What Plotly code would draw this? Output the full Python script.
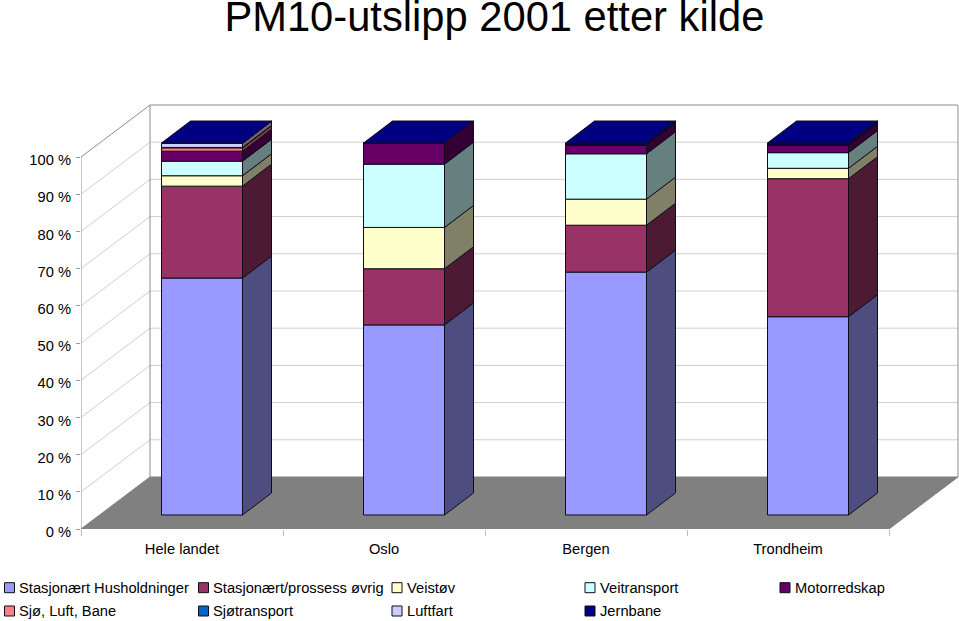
import plotly.graph_objects as go

# ---------- data ----------
categories = ["Hele landet", "Oslo", "Bergen", "Trondheim"]
series_names = ["Stasjonært Husholdninger", "Stasjonært/prossess øvrig", "Veistøv", "Veitransport",
                "Motorredskap", "Sjø, Luft, Bane", "Sjøtransport", "Luftfart", "Jernbane"]
stasjonaert_hus = [63.7, 51.1, 65.3, 53.3]
stasjonaert_pros = [24.7, 15.1, 12.6, 37.1]
veistov = [2.8, 11.1, 7.0, 2.8]
veitransport = [3.9, 17.0, 12.2, 4.2]
motorredskap = [2.7, 5.7, 2.4, 2.1]
sjo_luft_bane = [0.9, 0.0, 0.0, 0.0]
sjotransport = [0.1, 0.0, 0.0, 0.0]
luftfart = [1.1, 0.0, 0.0, 0.0]
jernbane = [0.1, 0.0, 0.5, 0.5]
y_ticks = [0, 10, 20, 30, 40, 50, 60, 70, 80, 90, 100]

series_values = [stasjonaert_hus, stasjonaert_pros, veistov, veitransport, motorredskap,
                 sjo_luft_bane, sjotransport, luftfart, jernbane]

# ---------- style ----------
front_colors = ["#9999FF", "#993366", "#FFFFCC", "#CCFFFF", "#660066", "#FF8080", "#0066CC", "#CCCCFF", "#000080"]
side_colors = ["#4D4D80", "#4D1A33", "#808066", "#668080", "#330033", "#804040", "#003366", "#666680", "#000040"]
FONT = "Liberation Sans, Arial, sans-serif"
EDGE = "#100C18"
W, H = 959, 621

# oblique projection, in axis units
WALL_DX, WALL_DY = 69 / 202, 52 / 3.72     # depth of the floor
BAR_OFF_X, BAR_OFF_Y = 20 / 202, 14 / 3.72  # bar front plane offset
BAR_DX, BAR_DY = 29 / 202, 22 / 3.72       # bar depth
BAR_W = 81 / 202
n = len(categories)
Y_TOP = 429 / 3.72
PLOT_H, LABEL_DROP_PX = 432, 3             # y labels sit a little below their ticks

# legend layout, in pixels
LEGEND_COLS = [4.5, 198.5, 392, 585, 780]
LEGEND_ROWS = [587.7, 611]
SWATCH = 10
LABEL_GAP = 14.5
PAPER_BOTTOM = 532

fig = go.Figure()

# front faces
cum = [0.0] * n
bases = []
for name, vals, col in zip(series_names, series_values, front_colors):
    bases.append(list(cum))
    fig.add_trace(go.Bar(
        name=name,
        x=[i + 0.5 + BAR_OFF_X for i in range(n)],
        y=vals,
        base=[c + BAR_OFF_Y for c in cum],
        width=BAR_W,
        marker=dict(color=col, line=dict(color=EDGE, width=1)),
        hoverinfo="skip",
        showlegend=False,
    ))
    cum = [c + v for c, v in zip(cum, vals)]

# side faces (bottom to top)
for vals, base, col in zip(series_values, bases, side_colors):
    xs, ys = [], []
    for i in range(n):
        if vals[i] <= 0:
            continue
        xr = i + 0.5 + BAR_OFF_X + BAR_W / 2
        lo = base[i] + BAR_OFF_Y
        hi = lo + vals[i]
        xs += [xr, xr + BAR_DX, xr + BAR_DX, xr, xr, None]
        ys += [lo, lo + BAR_DY, hi + BAR_DY, hi, lo, None]
    if xs:
        fig.add_trace(go.Scatter(x=xs, y=ys, mode="lines", fill="toself", fillcolor=col,
                                 line=dict(color=EDGE, width=1), showlegend=False, hoverinfo="skip"))

# top faces
xs, ys = [], []
for i in range(n):
    xl = i + 0.5 + BAR_OFF_X - BAR_W / 2
    xr = xl + BAR_W
    t = cum[i] + BAR_OFF_Y
    xs += [xl, xr, xr + BAR_DX, xl + BAR_DX, xl, None]
    ys += [t, t, t + BAR_DY, t + BAR_DY, t, None]
fig.add_trace(go.Scatter(x=xs, y=ys, mode="lines", fill="toself", fillcolor=front_colors[-1],
                         line=dict(color=EDGE, width=1), showlegend=False, hoverinfo="skip"))

# empty trace that brings the label axis to life
fig.add_trace(go.Scatter(x=[None], y=[None], yaxis="y2", mode="lines", showlegend=False, hoverinfo="skip"))

# floor, walls and grid
shapes = []
def line(x0, y0, x1, y1, color, width=1):
    shapes.append(dict(type="line", xref="x", yref="y", x0=x0, y0=y0, x1=x1, y1=y1, layer="below",
                       line=dict(color=color, width=width)))

for v in y_ticks[1:-1]:
    line(0, v, WALL_DX, v + WALL_DY, "#CFCFCF")
    line(WALL_DX, v + WALL_DY, n + WALL_DX, v + WALL_DY, "#CFCFCF")
shapes.append(dict(type="path", xref="x", yref="y", layer="below", fillcolor="#808080",
                   line=dict(color="#808080", width=1),
                   path=f"M 0 0 L {n} 0 L {n + WALL_DX} {WALL_DY} L {WALL_DX} {WALL_DY} Z"))
top = y_ticks[-1]
line(0, 0, 0, top, "#8C8C8C")
line(0, top, WALL_DX, top + WALL_DY, "#8C8C8C")
line(WALL_DX, WALL_DY, WALL_DX, top + WALL_DY, "#8C8C8C")
line(WALL_DX, top + WALL_DY, n + WALL_DX, top + WALL_DY, "#8C8C8C")
line(n + WALL_DX, WALL_DY, n + WALL_DX, top + WALL_DY, "#8C8C8C")

# legend: swatches and labels
annotations = []
for k, (name, col) in enumerate(zip(series_names, front_colors)):
    cx = LEGEND_COLS[k % 5]
    cy = LEGEND_ROWS[k // 5]
    shapes.append(dict(type="rect", xref="paper", yref="paper",
                       x0=(cx - 81) / 878, x1=(cx + SWATCH - 81) / 878,
                       y0=(PAPER_BOTTOM - cy - SWATCH / 2) / PLOT_H, y1=(PAPER_BOTTOM - cy + SWATCH / 2) / PLOT_H,
                       fillcolor=col, line=dict(color=EDGE, width=1)))
    annotations.append(dict(text=name, xref="paper", yref="paper", showarrow=False,
                            x=(cx + LABEL_GAP - 81) / 878, xanchor="left", xshift=-2,
                            y=(PAPER_BOTTOM - cy) / PLOT_H, yanchor="middle",
                            font=dict(family=FONT, size=14.7, color="black")))

fig.update_layout(
    width=W, height=H, autosize=False,
    margin=dict(l=81, r=0, t=100, b=H - 100 - PLOT_H, pad=0),
    paper_bgcolor="white", plot_bgcolor="rgba(0,0,0,0)",
    barmode="overlay",
    showlegend=False,
    font=dict(family=FONT, size=14.7, color="black"),
    title=dict(text="PM10-utslipp 2001 etter kilde", x=0.5155, xanchor="center", y=0.974, yanchor="middle",
               automargin=False, font=dict(family=FONT, size=41.7, color="black")),
    shapes=shapes,
    annotations=annotations,
    xaxis=dict(range=[0, 878 / 202], showgrid=False, zeroline=False, showline=False,
               tickmode="array", tickvals=[i + 0.5 for i in range(n)], ticktext=categories,
               ticks="", ticklabelstandoff=9,
               minor=dict(tickmode="array", tickvals=list(range(n + 1)), ticks="outside", ticklen=6,
                          tickcolor="#BDBDBD", showgrid=False)),
    yaxis=dict(domain=[LABEL_DROP_PX / PLOT_H, 1], range=[0, Y_TOP], showgrid=False, zeroline=False, showline=False,
               tickmode="array", tickvals=y_ticks, showticklabels=False,
               ticks="outside", ticklen=4, tickcolor="#9A9A9A"),
    yaxis2=dict(domain=[0, 1 - LABEL_DROP_PX / PLOT_H], anchor="x", side="left", range=[0, Y_TOP],
                showgrid=False, zeroline=False, showline=False,
                tickmode="array", tickvals=y_ticks, ticktext=[f"{v} %" for v in y_ticks],
                ticks="", ticklabelstandoff=9),
)

# the page's default 8 px body margin would push the figure out of the window
fig.write_html("out.html", config={"displayModeBar": False},
               post_script="document.body.style.margin='0';document.body.style.overflow='hidden';")
